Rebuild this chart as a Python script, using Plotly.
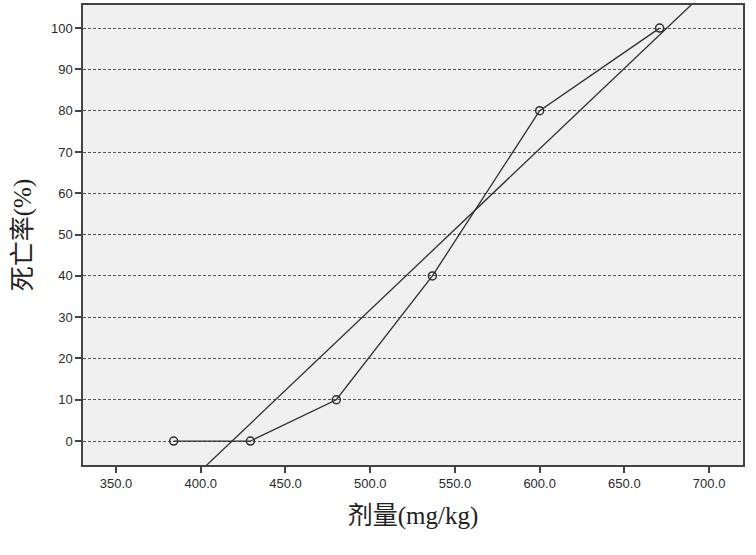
import numpy as np
import plotly.graph_objects as go

dose = [384.0, 429.3, 480.0, 536.7, 600.0, 670.8]
mortality = [0, 0, 10, 40, 80, 100]
x_ticks = [350, 400, 450, 500, 550, 600, 650, 700]
y_ticks = [0, 10, 20, 30, 40, 50, 60, 70, 80, 90, 100]

slope, intercept = np.polyfit(dose, mortality, 1)
fit_x = [330.0, 720.0]
fit_y = [slope * v + intercept for v in fit_x]

line_color = "#2e2e2e"
fig = go.Figure()
fig.add_trace(go.Scatter(x=fit_x, y=fit_y, mode="lines",
                         line=dict(color=line_color, width=1.3),
                         showlegend=False, hoverinfo="skip"))
fig.add_trace(go.Scatter(x=dose, y=mortality, mode="lines+markers",
                         line=dict(color=line_color, width=1.3),
                         marker=dict(symbol="circle-open", size=8,
                                     color=line_color, line=dict(width=1.5)),
                         showlegend=False))

tick_font = dict(family="'Liberation Sans', Arial, sans-serif", size=13, color="#2a2a2a")
title_font = dict(family="'Liberation Serif', 'DejaVu Serif', 'Noto Sans CJK SC', serif",
                  size=25, color="#222222")

fig.update_layout(
    width=756, height=555,
    margin=dict(l=83, r=13, t=5, b=90),
    paper_bgcolor="white",
    plot_bgcolor="#f0f0f0",
    xaxis=dict(range=[330.5, 720], tickvals=x_ticks,
               ticktext=[f"{v:.1f}" for v in x_ticks],
               showgrid=False, zeroline=False, automargin=False,
               showline=True, linecolor="#444444", linewidth=1.5, mirror=True,
               ticks="outside", ticklen=6, tickwidth=1.5, tickcolor="#444444",
               tickfont=tick_font,
               title=dict(text="剂量(mg/kg)", font=title_font, standoff=16)),
    yaxis=dict(range=[-5.8, 105.6], tickvals=y_ticks,
               ticktext=[str(v) for v in y_ticks],
               showgrid=True, gridcolor="#555555", gridwidth=1, griddash="3px,2px",
               zeroline=False, automargin=False,
               showline=True, linecolor="#444444", linewidth=1.5, mirror=True,
               ticks="outside", ticklen=6, tickwidth=1.5, tickcolor="#444444",
               tickfont=tick_font,
               title=dict(text="死亡率(%)", font=title_font, standoff=12)),
)

fig.write_html("out.html", config={"displayModeBar": False},
               post_script="document.body.style.margin='0px';")
